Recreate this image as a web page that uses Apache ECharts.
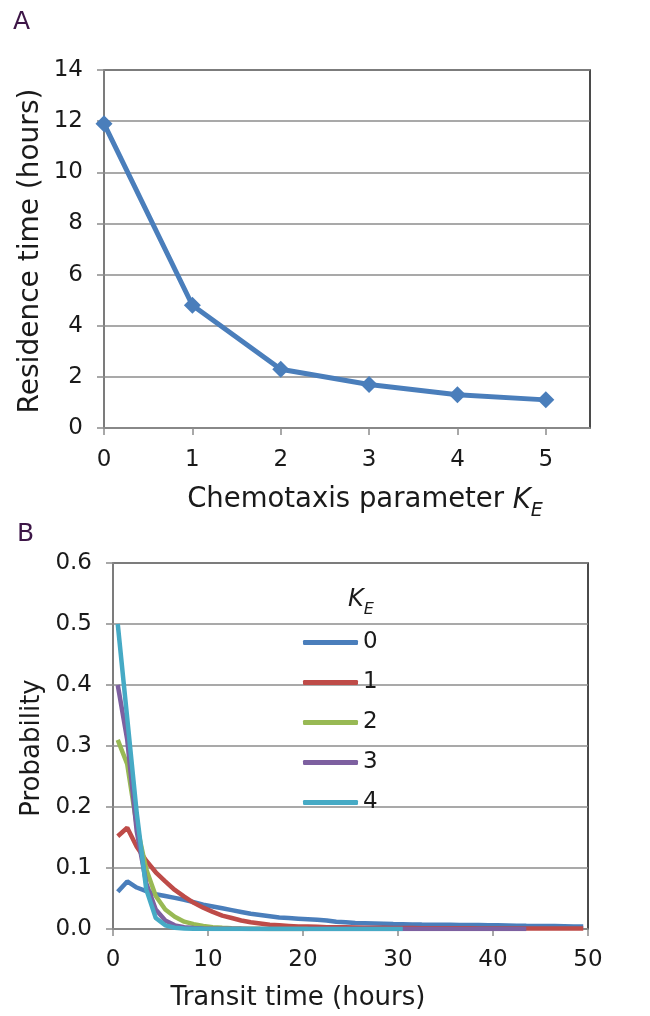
<!DOCTYPE html>
<html>
<head>
<meta charset="utf-8">
<script src="https://cdn.jsdelivr.net/npm/echarts@6/dist/echarts.min.js"></script>
<style>html,body{margin:0;padding:0;background:#fff}#c{width:650px;height:1016px}</style>
</head>
<body>
<div id="c"></div>
<script>
// Panel A data
const kE = [0, 1, 2, 3, 4, 5];
const residenceTime = [11.9, 4.8, 2.3, 1.7, 1.3, 1.1];

// Panel B data
const transitTime = [0.5,1.5,2.5,3.5,4.5,5.5,6.5,7.5,8.5,9.5,10.5,11.5,12.5,13.5,14.5,15.5,16.5,17.5,18.5,19.5,20.5,21.5,22.5,23.5,24.5,25.5,26.5,27.5,28.5,29.5,30.5,31.5,32.5,33.5,34.5,35.5,36.5,37.5,38.5,39.5,40.5,41.5,42.5,43.5,44.5,45.5,46.5,47.5,48.5,49.5];
const probK0 = [0.061,0.078,0.068,0.062,0.057,0.054,0.051,0.048,0.044,0.040,0.037,0.034,0.031,0.028,0.025,0.023,0.021,0.019,0.018,0.017,0.016,0.015,0.014,0.012,0.011,0.010,0.0095,0.009,0.0085,0.008,0.0078,0.0075,0.0072,0.007,0.007,0.0068,0.0066,0.0065,0.0065,0.0062,0.006,0.0058,0.0055,0.0052,0.005,0.005,0.0048,0.0045,0.004,0.004];
const probK1 = [0.152,0.166,0.135,0.112,0.093,0.078,0.064,0.053,0.043,0.035,0.028,0.022,0.018,0.014,0.011,0.009,0.007,0.006,0.005,0.004,0.004,0.0035,0.003,0.003,0.0028,0.0025,0.0022,0.002,0.002,0.0018,0.0016,0.0015,0.0014,0.0013,0.0012,0.0012,0.0011,0.0011,0.001,0.001,0.001,0.001,0.001,0.001,0.0008,0.0008,0.0008,0.0008,0.0008,0.0008];
const probK2 = [0.31,0.27,0.17,0.098,0.054,0.032,0.02,0.012,0.008,0.005,0.003,0.002,0.0012,0.0008,0.0005,0.0003,0.0002,0.0001,0.0001,0,0];
const probK3 = [0.40,0.31,0.16,0.075,0.032,0.014,0.006,0.003,0.0015,0.0008,0.0005,0.0004,0.0003,0.0003,0.0002,0.0002,0.0002,0.0002,0.0001,0.0001,0.0001,0.0001,0.0001,0.0001,0.0001,0.0001,0.0001,0.0001,0.0001,0.0001,0.0001,0.0001,0.0001,0.0001,0.0001,0.0001,0.0001,0.0001,0.0001,0.0001,0.0001,0.0001,0.0001,0.0001];
const probK4 = [0.50,0.345,0.19,0.065,0.018,0.006,0.002,0.001,0.0005,0.0003,0.0002,0.0001,0.0001,0.0001,0.0001,0,0,0,0,0,0,0,0,0,0,0,0,0,0,0,0];
const seriesNames = ['0', '1', '2', '3', '4'];
const yTicksA = [0, 2, 4, 6, 8, 10, 12, 14];

const colors = ['#4A7EBB', '#BE4B48', '#98B954', '#7D60A0', '#46AAC5'];
const FONT = 'DejaVu Sans';
const TXT = '#1a1a1a';
const GRID = '#8c8c8c';

function pairs(xs, ys) { return ys.map((y, i) => [xs[i], y]); }

const chart = echarts.init(document.getElementById('c'), null, {renderer: 'canvas'});
const probSeries = [probK0, probK1, probK2, probK3, probK4];

const axisCommon = {
  axisLine: {show: true, lineStyle: {color: GRID, width: 1.5}},
  axisTick: {show: true, inside: false, length: 7, lineStyle: {color: GRID, width: 1.5}},
  splitLine: {show: false},
  axisLabel: {color: TXT, fontFamily: FONT, fontSize: 23}
};

const option = {
  animation: false,
  backgroundColor: '#fff',
  grid: [
    {left: 104, top: 70, right: 60, bottom: 588, show: true, borderColor: '#111', borderWidth: 1.5, backgroundColor: 'transparent'},
    {left: 113, top: 563, right: 62, bottom: 87, show: true, borderColor: '#111', borderWidth: 1.5, backgroundColor: 'transparent'}
  ],
  xAxis: [
    Object.assign({}, axisCommon, {
      gridIndex: 0, type: 'value', min: 0, max: 5.5, interval: 1,
      axisTick: Object.assign({}, axisCommon.axisTick, {customValues: kE}),
      axisLabel: Object.assign({}, axisCommon.axisLabel, {margin: 21, customValues: kE, formatter: v => Number.isInteger(v) ? String(v) : ''})
    }),
    Object.assign({}, axisCommon, {
      gridIndex: 1, type: 'value', min: 0, max: 50, interval: 10,
      axisLabel: Object.assign({}, axisCommon.axisLabel, {margin: 20})
    })
  ],
  yAxis: [
    Object.assign({}, axisCommon, {
      gridIndex: 0, type: 'value', min: yTicksA[0], max: yTicksA[yTicksA.length - 1], interval: 2,
      splitLine: {show: true, lineStyle: {color: GRID, width: 1.5}},
      axisLabel: Object.assign({}, axisCommon.axisLabel, {margin: 21})
    }),
    Object.assign({}, axisCommon, {
      gridIndex: 1, type: 'value', min: 0, max: 0.6, interval: 0.1,
      splitLine: {show: true, lineStyle: {color: GRID, width: 1.5}},
      axisLabel: Object.assign({}, axisCommon.axisLabel, {margin: 21, formatter: v => v.toFixed(1)})
    })
  ],
  legend: {
    orient: 'vertical', left: 303, top: 631, padding: 0,
    itemWidth: 55, itemHeight: 5, itemGap: 17, icon: 'roundRect',
    textStyle: {color: TXT, fontFamily: FONT, fontSize: 23, lineHeight: 23},
    data: seriesNames
  },
  series: [
    {
      type: 'line', xAxisIndex: 0, yAxisIndex: 0,
      data: pairs(kE, residenceTime),
      symbol: 'diamond', symbolSize: 17,
      lineStyle: {color: colors[0], width: 5},
      itemStyle: {color: colors[0]}
    }
  ].concat(probSeries.map((d, i) => ({
    type: 'line', name: seriesNames[i], xAxisIndex: 1, yAxisIndex: 1,
    data: pairs(transitTime, d),
    showSymbol: false, symbol: 'none',
    lineStyle: {color: colors[i], width: 4.5},
    itemStyle: {color: colors[i]}
  }))),
  graphic: [
    {type: 'text', left: 13, top: 10, style: {text: 'A', fontFamily: FONT, fontSize: 25, fill: '#3d1647'}},
    {type: 'text', left: 17, top: 522, style: {text: 'B', fontFamily: FONT, fontSize: 25, fill: '#3d1647'}},
    {type: 'text', x: 31, y: 251, rotation: Math.PI / 2, style: {text: 'Residence time (hours)', fontFamily: FONT, fontSize: 28, fill: TXT, align: 'center', verticalAlign: 'middle'}},
    {type: 'text', x: 32, y: 748, rotation: Math.PI / 2, style: {text: 'Probability', fontFamily: FONT, fontSize: 26, fill: TXT, align: 'center', verticalAlign: 'middle'}},
    {type: 'text', x: 365, y: 500, style: {
      text: '{n|Chemotaxis parameter }{k|K}{e|E}', align: 'center', verticalAlign: 'middle',
      rich: {
        n: {fontFamily: FONT, fontSize: 27.5, fill: TXT, verticalAlign: 'bottom'},
        k: {fontFamily: FONT, fontSize: 27.5, fontStyle: 'italic', fill: TXT, verticalAlign: 'bottom'},
        e: {fontFamily: FONT, fontSize: 19, fontStyle: 'italic', fill: TXT, verticalAlign: 'bottom', padding: [0, 0, -7, 0]}
      }}},
    {type: 'text', x: 298, y: 998, style: {text: 'Transit time (hours)', fontFamily: FONT, fontSize: 26, fill: TXT, align: 'center', verticalAlign: 'middle'}},
    {type: 'text', x: 361, y: 600, style: {
      text: '{k|K}{e|E}', align: 'center', verticalAlign: 'middle',
      rich: {
        k: {fontFamily: FONT, fontSize: 24, fontStyle: 'italic', fill: TXT, verticalAlign: 'bottom'},
        e: {fontFamily: FONT, fontSize: 16, fontStyle: 'italic', fill: TXT, verticalAlign: 'bottom', padding: [0, 0, -6, 0]}
      }}}
  ]
};
chart.setOption(option);
</script>
</body>
</html>
